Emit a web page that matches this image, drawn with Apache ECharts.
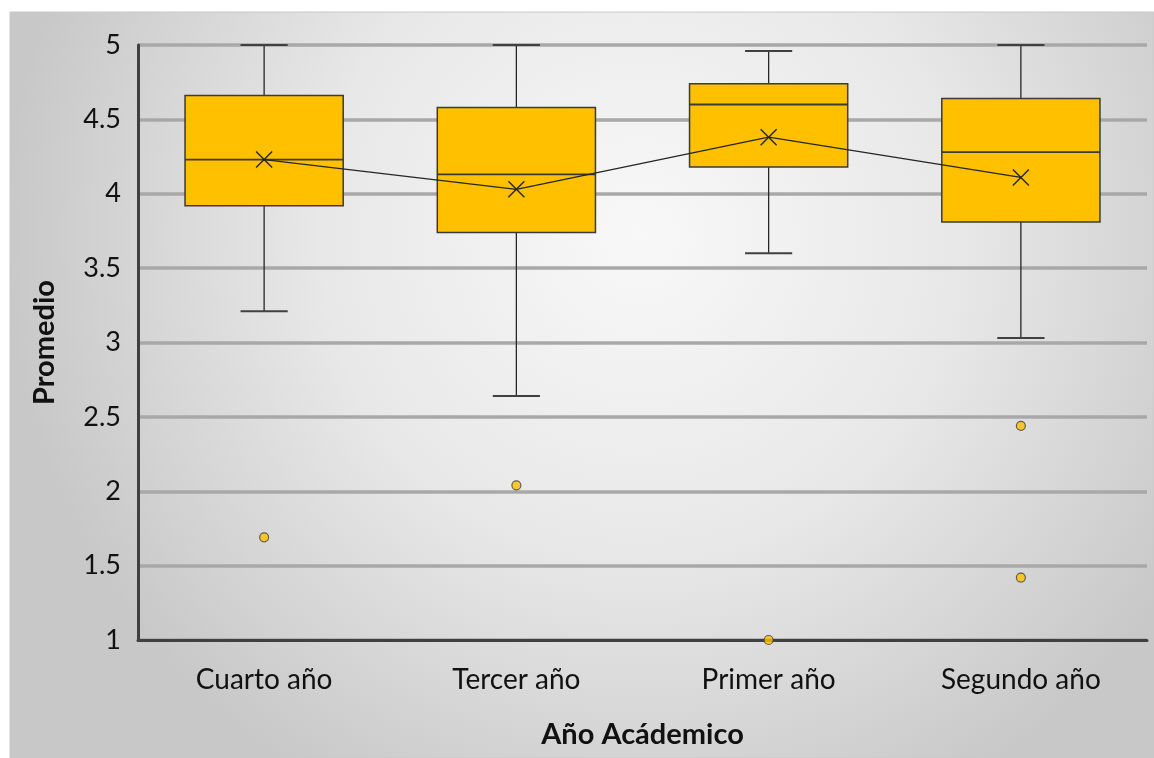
<!DOCTYPE html>
<html>
<head>
<meta charset="utf-8">
<script src="https://cdn.jsdelivr.net/npm/echarts@6/dist/echarts.min.js"></script>
<style>
html,body{margin:0;padding:0;background:#fff;}
#chart{width:1154px;height:758px;}
</style>
</head>
<body>
<div id="chart"></div>
<script>
const categories = ['Cuarto año', 'Tercer año', 'Primer año', 'Segundo año'];
const minVals    = [3.21, 2.64, 3.60, 3.03];
const q1Vals     = [3.92, 3.74, 4.18, 3.81];
const medianVals = [4.23, 4.13, 4.60, 4.28];
const q3Vals     = [4.66, 4.58, 4.74, 4.64];
const maxVals    = [5.00, 5.00, 4.96, 5.00];
const meanVals   = [4.23, 4.03, 4.38, 4.11];
const outlierCats = [0, 1, 2, 3, 3];
const outlierVals = [1.69, 2.04, 1.00, 2.44, 1.42];
const yTicks = ['1', '1.5', '2', '2.5', '3', '3.5', '4', '4.5', '5'];

const FONT = 'Lato, "Open Sans", sans-serif';
const boxData = categories.map((c, i) => [i, minVals[i], q1Vals[i], medianVals[i], q3Vals[i], maxVals[i]]);
const outlierData = outlierCats.map((c, i) => [c, outlierVals[i]]);
const meanData = meanVals.map((v, i) => [i, v]);

const chart = echarts.init(document.getElementById('chart'));
chart.setOption({
  animation: false,
  graphic: [{
    type: 'rect', z: -100, silent: true,
    shape: { x: 10, y: 12, width: 1144, height: 746 },
    style: {
      fill: { type: 'radial', x: 0.55, y: 0.3, r: 0.85,
        colorStops: [{ offset: 0, color: '#f8f8f8' }, { offset: 0.5, color: '#e8e8e8' }, { offset: 1, color: '#c8c8c8' }] },
      stroke: '#c8c8c8', lineWidth: 1
    }
  }],
  grid: { left: 138, right: 7, top: 45, bottom: 118 },
  xAxis: {
    type: 'category', data: categories, boundaryGap: true,
    axisLine: { lineStyle: { color: '#404040', width: 3 } },
    axisTick: { show: false },
    axisLabel: { color: '#111111', fontSize: 28, fontFamily: FONT, margin: 26 },
    splitLine: { show: false },
    name: 'Año Acádemico', nameLocation: 'middle', nameGap: 80,
    nameTextStyle: { color: '#111111', fontSize: 29, fontWeight: 'bold', fontFamily: FONT }
  },
  yAxis: {
    type: 'value', min: 1, max: 5, interval: 0.5,
    axisLine: { show: true, lineStyle: { color: '#404040', width: 3 } },
    axisTick: { show: false },
    axisLabel: { color: '#111111', fontSize: 27, fontFamily: FONT, margin: 17,
      formatter: (v) => yTicks[Math.round((v - 1) / 0.5)] },
    splitLine: { show: true, lineStyle: { color: '#a8a8a8', width: 3.5 } },
    name: 'Promedio', nameLocation: 'middle', nameGap: 79,
    nameTextStyle: { color: '#111111', fontSize: 29, fontWeight: 'bold', fontFamily: FONT }
  },
  series: [
    {
      type: 'custom', z: 3, data: boxData,
      encode: { x: 0, y: [1, 2, 3, 4, 5] },
      renderItem: function (params, api) {
        const x = api.value(0);
        const band = api.size([1, 0])[0];
        const bw = band * 0.627, cw = band * 0.187;
        const pMin = api.coord([x, api.value(1)]);
        const pQ1 = api.coord([x, api.value(2)]);
        const pMed = api.coord([x, api.value(3)]);
        const pQ3 = api.coord([x, api.value(4)]);
        const pMax = api.coord([x, api.value(5)]);
        const cx = pMin[0];
        const lineStyle = { stroke: '#262626', lineWidth: 1.3 };
        return {
          type: 'group', children: [
            { type: 'line', shape: { x1: cx, y1: pQ3[1], x2: cx, y2: pMax[1] }, style: lineStyle },
            { type: 'line', shape: { x1: cx, y1: pQ1[1], x2: cx, y2: pMin[1] }, style: lineStyle },
            { type: 'line', shape: { x1: cx - cw / 2, y1: pMax[1], x2: cx + cw / 2, y2: pMax[1] }, style: { stroke: '#404040', lineWidth: 2 } },
            { type: 'line', shape: { x1: cx - cw / 2, y1: pMin[1], x2: cx + cw / 2, y2: pMin[1] }, style: { stroke: '#404040', lineWidth: 2 } },
            { type: 'rect', shape: { x: cx - bw / 2, y: pQ3[1], width: bw, height: pQ1[1] - pQ3[1] },
              style: { fill: '#FFC000', stroke: '#3a3a3a', lineWidth: 1.5 } },
            { type: 'line', shape: { x1: cx - bw / 2, y1: pMed[1], x2: cx + bw / 2, y2: pMed[1] }, style: { stroke: '#3a3a3a', lineWidth: 1.8 } }
          ]
        };
      }
    },
    {
      type: 'line', z: 4, data: meanData, symbol: 'none',
      lineStyle: { color: '#262626', width: 1.3 }
    },
    {
      type: 'custom', z: 5, data: meanData,
      renderItem: function (params, api) {
        const p = api.coord([api.value(0), api.value(1)]);
        const s = 8;
        return {
          type: 'group', children: [
            { type: 'line', shape: { x1: p[0] - s, y1: p[1] - s, x2: p[0] + s, y2: p[1] + s }, style: { stroke: '#262626', lineWidth: 1.4 } },
            { type: 'line', shape: { x1: p[0] - s, y1: p[1] + s, x2: p[0] + s, y2: p[1] - s }, style: { stroke: '#262626', lineWidth: 1.4 } }
          ]
        };
      }
    },
    {
      type: 'scatter', z: 6, data: outlierData, symbol: 'circle', symbolSize: 9,
      itemStyle: { color: '#FFC000', borderColor: '#404040', borderWidth: 1.2 }
    }
  ]
});
</script>
</body>
</html>
